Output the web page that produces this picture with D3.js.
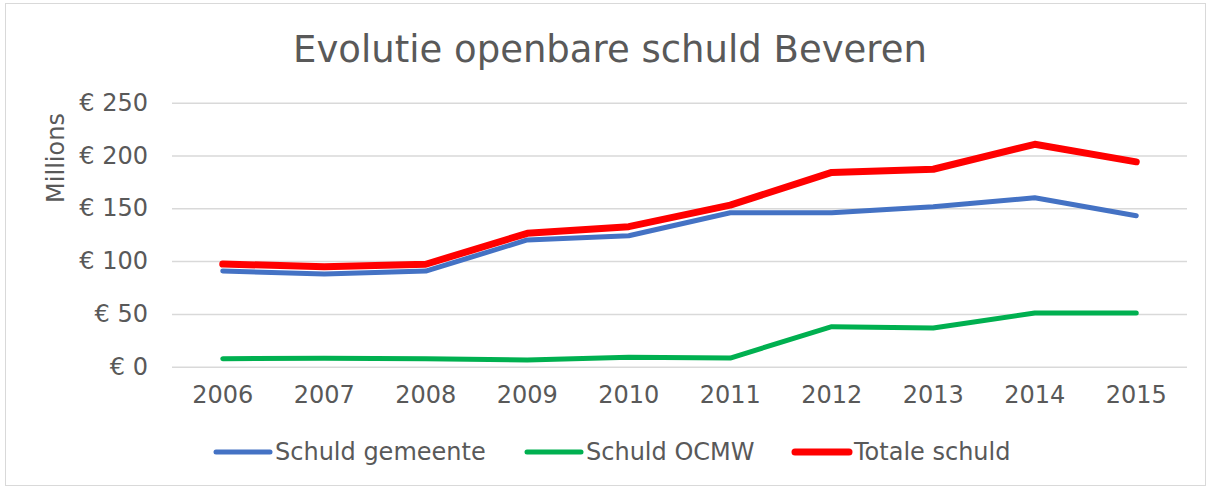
<!DOCTYPE html>
<html>
<head>
<meta charset="utf-8">
<script src="https://cdn.jsdelivr.net/npm/d3@7"></script>
<style>
  body { margin: 0; background: #fff; }
  text { font-family: "DejaVu Sans", Verdana, sans-serif; fill: #595959; }
</style>
</head>
<body>
<script>
var years = ["2006", "2007", "2008", "2009", "2010", "2011", "2012", "2013", "2014", "2015"];
var gemeente = [90.6, 87.8, 90.6, 120, 124, 145.8, 145.8, 151.5, 160, 143];
var ocmw = [7.6, 8, 7.5, 6.3, 8.9, 8.2, 37.9, 36.6, 50.8, 50.8];
var totaal = [97.2, 94.7, 97, 126.3, 132.6, 153, 184, 187, 210.6, 194];
var yTicks = [0, 50, 100, 150, 200, 250];

var series = [
  { name: "Schuld gemeente", values: gemeente, color: "#4472c4", width: 5 },
  { name: "Schuld OCMW", values: ocmw, color: "#00b050", width: 5 },
  { name: "Totale schuld", values: totaal, color: "#ff0000", width: 7 }
];

var W = 1211, H = 486;
var plotL = 172, plotR = 1187, plotT = 102.7, plotB = 366.7;

var svg = d3.select("body").append("svg")
  .attr("width", W)
  .attr("height", H);

// chart border
svg.append("rect")
  .attr("x", 5.5).attr("y", 3.5)
  .attr("width", W - 11).attr("height", H - 4)
  .attr("fill", "none")
  .attr("stroke", "#d9d9d9");

var x = d3.scaleBand()
  .domain(years)
  .range([plotL, plotR]);

var y = d3.scaleLinear()
  .domain([0, 250])
  .range([plotB, plotT]);

// gridlines + y labels
var yAxis = svg.append("g")
  .attr("transform", "translate(" + plotL + ",0)")
  .call(d3.axisLeft(y)
    .tickValues(yTicks)
    .tickSize(-(plotR - plotL))
    .tickPadding(24)
    .tickFormat(function (d) { return "€ " + d; }));
yAxis.select(".domain").remove();
yAxis.selectAll("line").attr("stroke", "#d9d9d9").attr("stroke-width", 1.5);
yAxis.selectAll("text")
  .style("font-size", "24px")
  .attr("fill", "#595959");

// x labels
var xAxis = svg.append("g")
  .attr("transform", "translate(0," + plotB + ")")
  .call(d3.axisBottom(x).tickSize(0).tickPadding(19));
xAxis.select(".domain").remove();
xAxis.selectAll("text")
  .style("font-size", "24px")
  .attr("fill", "#595959");

var line = d3.line()
  .x(function (d, i) { return x(years[i]) + x.bandwidth() / 2; })
  .y(function (d) { return y(d); });

svg.selectAll(".series")
  .data(series)
  .enter()
  .append("path")
  .attr("class", "series")
  .attr("d", function (s) { return line(s.values); })
  .attr("fill", "none")
  .attr("stroke", function (s) { return s.color; })
  .attr("stroke-width", function (s) { return s.width; })
  .attr("stroke-linecap", "round")
  .attr("stroke-linejoin", "round");

// title
svg.append("text")
  .attr("x", 610)
  .attr("y", 62)
  .attr("text-anchor", "middle")
  .style("font-size", "37px")
  .text("Evolutie openbare schuld Beveren");

// y axis title
svg.append("text")
  .attr("transform", "translate(64,158) rotate(-90)")
  .attr("text-anchor", "middle")
  .style("font-size", "24px")
  .text("Millions");

// legend
var legendX = [216, 527, 795];
var leg = svg.selectAll(".legend")
  .data(series)
  .enter()
  .append("g")
  .attr("class", "legend")
  .attr("transform", function (s, i) { return "translate(" + legendX[i] + ",452)"; });
leg.append("line")
  .attr("x1", 0).attr("x2", 54)
  .attr("stroke", function (s) { return s.color; })
  .attr("stroke-width", function (s) { return s.width; })
  .attr("stroke-linecap", "round");
leg.append("text")
  .attr("x", 59)
  .attr("y", 8)
  .style("font-size", "24px")
  .text(function (s) { return s.name; });
</script>
</body>
</html>
